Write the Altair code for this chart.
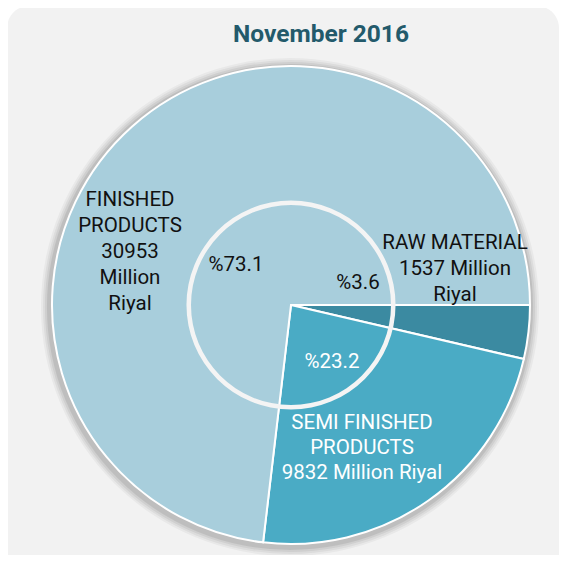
import math
import altair as alt
import pandas as pd

# ---- data ----
categories = ["RAW MATERIAL", "SEMI FINISHED PRODUCTS", "FINISHED PRODUCTS"]
values = [1537, 9832, 30953]
colors = ["#3b8aa1", "#4aabc5", "#a8cedc"]
title_text = "November 2016"

total = sum(values)
pct = [f"%{v * 100 / total:.1f}" for v in values]
raw_lines = ["RAW MATERIAL", f"{values[0]} Million", "Riyal"]
semi_lines = ["SEMI FINISHED", "PRODUCTS", f"{values[1]} Million Riyal"]
fin_lines = ["FINISHED", "PRODUCTS", f"{values[2]}", "Million", "Riyal"]

df = pd.DataFrame({"category": categories, "value": values, "order": [0, 1, 2]})
one = pd.DataFrame({"k": [0]})

W, H = 553, 547
CX, CY = 283, 297
R = 239
FONT = "Roboto"

# panel background (rounded top, runs off the bottom edge)
panel = alt.Chart(one).mark_rect(color="#f2f2f2", cornerRadius=22).encode(
    x=alt.value(-1), x2=alt.value(W - 2), y=alt.value(-2), y2=alt.value(H + 40)
)

# shadow rings
shadows = []
for r, op in [(249, 0.04), (247, 0.05), (245, 0.06), (243, 0.08)]:
    shadows.append(
        alt.Chart(one).mark_arc(innerRadius=0, outerRadius=r, theta=0, theta2=2 * math.pi,
                                color="black", opacity=op)
        .encode(x=alt.value(CX - 1), y=alt.value(CY + 2))
    )

slices = alt.Chart(df).mark_arc(outerRadius=R, stroke="white", strokeWidth=2).encode(
    theta=alt.Theta("value:Q", stack=True,
                    scale=alt.Scale(range=[math.pi / 2, math.pi / 2 + 2 * math.pi])),
    color=alt.Color("category:N", scale=alt.Scale(domain=categories, range=colors), legend=None),
    order=alt.Order("order:Q"),
    x=alt.value(CX),
    y=alt.value(CY),
)

ring = alt.Chart(one).mark_arc(innerRadius=100, outerRadius=104.5, theta=0, theta2=2 * math.pi,
                               color="#f4f4f4").encode(x=alt.value(CX), y=alt.value(CY))


def txt(lines, x, y, color="#111111", size=20.5, lh=26, weight="normal", font=FONT):
    return alt.Chart(one).mark_text(
        align="center", baseline="middle", fontSize=size, font=font, color=color,
        lineHeight=lh, fontWeight=weight
    ).encode(x=alt.value(x), y=alt.value(y), text=alt.value(lines))


title = txt(title_text, 313, 27, color="#235a6b", size=24.5, weight="bold")
labels = [
    txt(fin_lines, 122, 192),
    txt(raw_lines, 447, 235),
    txt(semi_lines, 354, 415, color="white", lh=25),
    txt(pct[2], 228, 257),
    txt(pct[0], 350, 275),
    txt(pct[1], 324, 354, color="white"),
]

chart = alt.layer(panel, *shadows, slices, ring, title, *labels).properties(
    width=W, height=H, autosize=alt.AutoSizeParams(type="none"), padding=0
).configure_view(fill=None, stroke=None)

chart.save("out.html", embed_options={"renderer": "svg", "actions": False})
